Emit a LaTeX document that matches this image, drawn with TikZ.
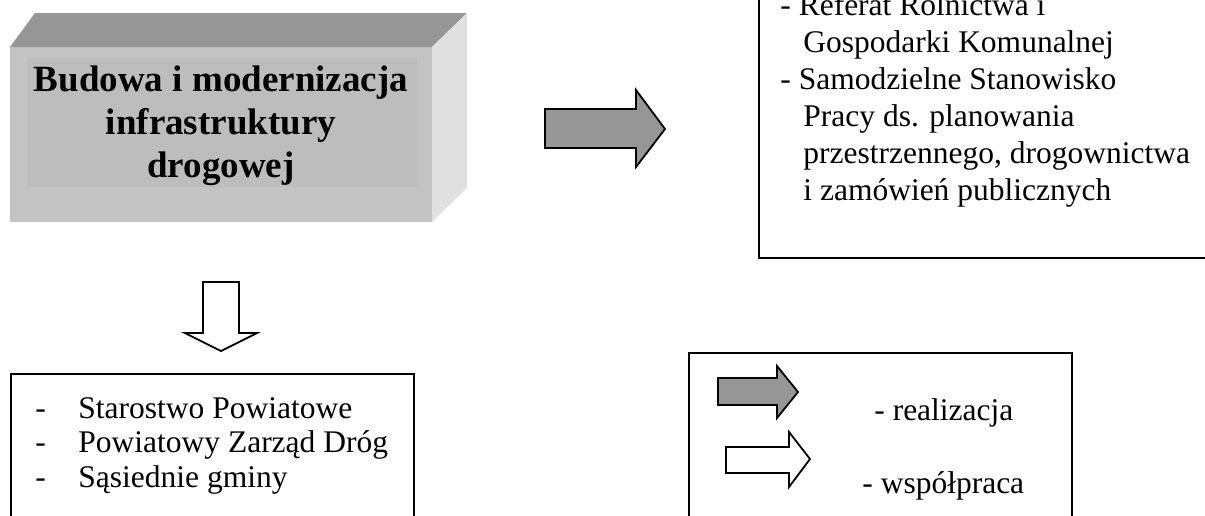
\documentclass[tikz,border=0pt]{standalone}
\usepackage{fontspec}
\setmainfont{Liberation Serif}
\usetikzlibrary{positioning}
\definecolor{facegray}{HTML}{C3C3C3}
\definecolor{innergray}{HTML}{BDBDBD}
\definecolor{topgray}{HTML}{969696}
\definecolor{sidegray}{HTML}{E0E0E0}
\newcommand{\RoadTextSize}{\fontsize{15.75pt}{18.5pt}\selectfont}
\newcommand{\RoadTitleSize}{\fontsize{18.5pt}{21.5pt}\selectfont\bfseries}
\newcommand{\RoadIndent}{\hspace*{0.73em}}
\newcommand{\RoadDash}{\makebox[21.5pt][l]{-}}

\begin{document}
\begin{tikzpicture}[x=0.5pt, y=-0.5pt,
	box/.style={draw=black, line width=1pt},
	blockarrow/.style={draw=black, line width=0.9pt, line join=miter},
	txt/.style={inner sep=0pt, align=left, anchor=base west, font=\RoadTextSize}]
	\useasboundingbox (0,0) rectangle (1205,515);
	\clip (0,0) rectangle (1205,515);

	\fill[facegray] (10,47) rectangle (432,222);
	\fill[innergray] (27,58) rectangle (417,187);
	\fill[topgray] (10,47) -- (35,13) -- (467,13) -- (432,47) -- cycle;
	\fill[sidegray] (432,47) -- (467,13) -- (467,188) -- (432,222) -- cycle;
	\node[font=\RoadTitleSize, align=center, inner sep=0pt] (task) at (221,126) {Budowa i modernizacja\\infrastruktury\\drogowej};

	\draw[box] (759,-10) rectangle (1215,258);
	\node[txt] (gmina) at (780,200) {- Referat Rolnictwa i\\\RoadIndent Gospodarki Komunalnej\\- Samodzielne Stanowisko\\\RoadIndent Pracy ds. planowania\\\RoadIndent przestrzennego, drogownictwa\\\RoadIndent i zamówień publicznych};

	\draw[box] (11,374) rectangle (414,530);
	\node[txt, font=\fontsize{15.75pt}{17.25pt}\selectfont] (partners) at (35,487) {\RoadDash Starostwo Powiatowe\\\RoadDash Powiatowy Zarząd Dróg\\\RoadDash Sąsiednie gminy};

	\draw[box] (689,353) rectangle (1072,530);
	\node[txt] (real) at (874,420) {- realizacja};
	\node[txt] (coop) at (862,493) {- współpraca};

	\draw[blockarrow, fill=topgray] (545,109) -- (636,109) -- (636,90) -- (665,129) -- (636,167) -- (636,148) -- (545,148) -- cycle;
	\draw[blockarrow, fill=white] (203,282) -- (239,282) -- (239,333) -- (257,333) -- (221,351) -- (185,333) -- (203,333) -- cycle;
	\draw[blockarrow, fill=topgray] (718,378) -- (777,378) -- (777,366) -- (798,392) -- (777,418) -- (777,405) -- (718,405) -- cycle;
	\draw[blockarrow, fill=white] (726,447) -- (789,447) -- (789,432) -- (810,459) -- (789,487) -- (789,473) -- (726,473) -- cycle;
\end{tikzpicture}
\end{document}
